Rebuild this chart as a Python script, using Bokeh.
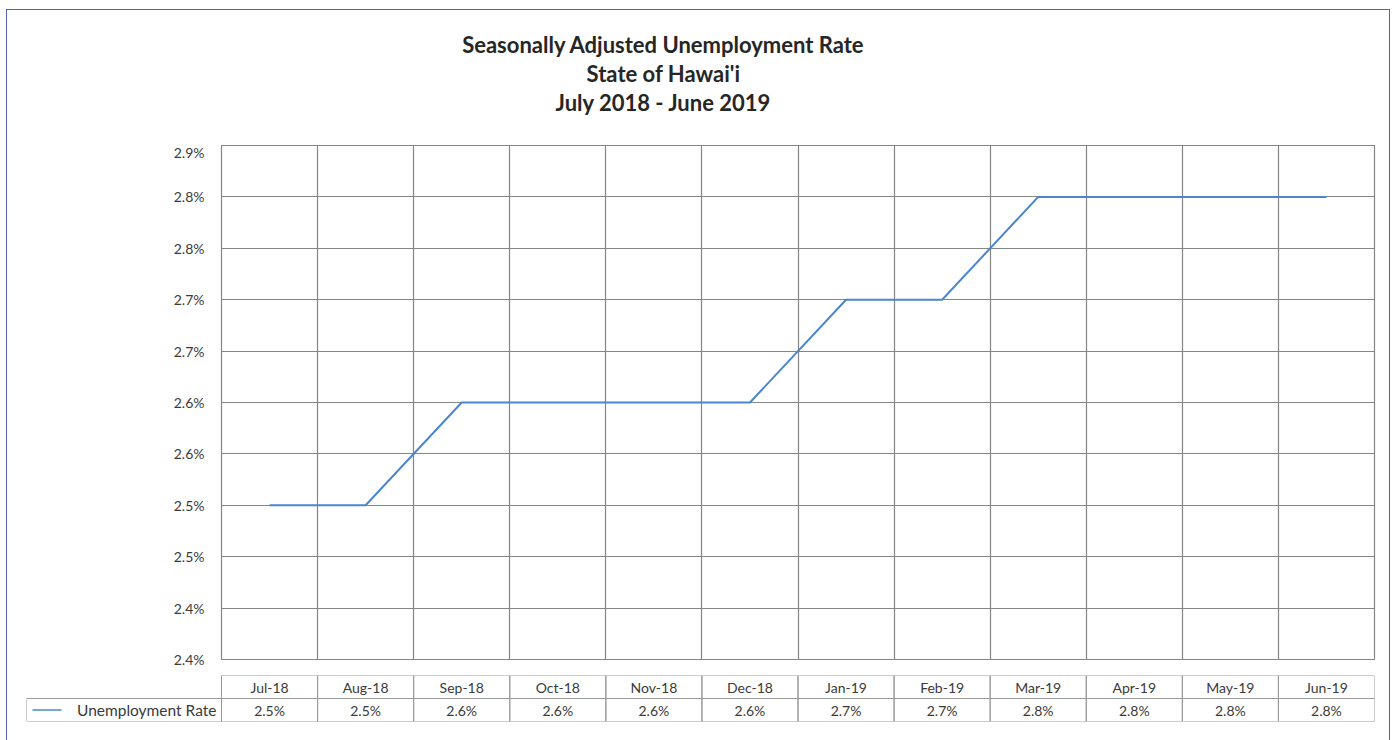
import numpy as np
from bokeh.plotting import figure
from bokeh.models import Range1d, FixedTicker
from bokeh.layouts import column, row
from bokeh.embed import file_html
from bokeh.resources import INLINE
from bokeh.core.properties import value

# ---------------- data ----------------
title_lines = ["Seasonally Adjusted Unemployment Rate", "State of Hawai'i", "July 2018 - June 2019"]
months = ["Jul-18", "Aug-18", "Sep-18", "Oct-18", "Nov-18", "Dec-18",
          "Jan-19", "Feb-19", "Mar-19", "Apr-19", "May-19", "Jun-19"]
rates = [2.5, 2.5, 2.6, 2.6, 2.6, 2.6, 2.7, 2.7, 2.8, 2.8, 2.8, 2.8]
series_name = "Unemployment Rate"
y_ticks = [2.35, 2.40, 2.45, 2.50, 2.55, 2.60, 2.65, 2.70, 2.75, 2.80, 2.85]
y_tick_labels = ["2.4%", "2.4%", "2.5%", "2.5%", "2.6%", "2.6%",
                 "2.7%", "2.7%", "2.8%", "2.8%", "2.9%"]

# ---------------- styles ----------------
FONT = "Lato"
LINE_COLOR = "#4a86cf"
GRID_COLOR = "#858585"
TEXT_COLOR = "#3a3a3a"
TITLE_COLOR = "#262626"
W = 1382
TITLE_H = 133
BL, BR = 214, 15          # main frame borders
FRAME_W = W - BL - BR

n = len(months)
xs = np.arange(n) + 0.5

# ---------------- title block ----------------
tt = figure(width=W, height=TITLE_H, output_backend="svg", toolbar_location=None,
            x_range=Range1d(0, FRAME_W), y_range=Range1d(TITLE_H, 0),
            min_border_left=BL, min_border_right=BR, min_border_top=0,
            min_border_bottom=0, tools="")
tt.outline_line_color = None
tt.axis.visible = False
tt.grid.visible = False
tt.border_fill_color = "white"
tt.background_fill_color = "white"
tt.text(x=[442] * 3, y=[34, 62.5, 92], text=title_lines,
        text_align="center", text_baseline="alphabetic",
        text_font=value(FONT), text_font_style="bold", text_font_size="22px",
        text_color=TITLE_COLOR)

# ---------------- main chart ----------------
p = figure(width=W, height=525, output_backend="svg", toolbar_location=None,
           x_range=Range1d(0, n), y_range=Range1d(y_ticks[0], y_ticks[-1]),
           min_border_left=BL, min_border_right=BR, min_border_top=2,
           min_border_bottom=9, tools="")
p.background_fill_color = "white"
p.border_fill_color = "white"
p.outline_line_color = GRID_COLOR
p.outline_line_width = 1.2

p.xaxis.visible = False
p.xgrid.ticker = FixedTicker(ticks=list(range(n + 1)))
p.xgrid.grid_line_color = GRID_COLOR
p.xgrid.grid_line_width = 1.2

p.yaxis.ticker = FixedTicker(ticks=y_ticks)
p.yaxis.major_label_overrides = {t: l for t, l in zip(y_ticks, y_tick_labels)}
p.yaxis.axis_line_color = None
p.yaxis.major_tick_line_color = None
p.yaxis.minor_tick_line_color = None
p.yaxis.major_label_standoff = 11
p.yaxis.major_label_text_font = FONT
p.yaxis.major_label_text_font_size = "14px"
p.yaxis.major_label_text_color = TEXT_COLOR
p.ygrid.grid_line_color = GRID_COLOR
p.ygrid.grid_line_width = 1.2

p.line(xs, rates, line_color=LINE_COLOR, line_width=2)

# ---------------- data table ----------------
unit_px = FRAME_W / n
legend_px = 195
legend_w = legend_px / unit_px
t = figure(width=W, height=72, output_backend="svg", toolbar_location=None,
           x_range=Range1d(-legend_w, n), y_range=Range1d(0, 2),
           min_border_left=BL - legend_px, min_border_right=BR, min_border_top=7,
           min_border_bottom=19, tools="")
t.outline_line_color = None
t.axis.visible = False
t.grid.visible = False
t.background_fill_color = "white"
t.border_fill_color = "white"

left = np.arange(n)
t.quad(left=left, right=left + 1, bottom=1, top=2, fill_color=None,
       line_color="#999999", line_width=1)
t.quad(left=left, right=left + 1, bottom=0, top=1, fill_color=None,
       line_color="#999999", line_width=1)
t.quad(left=[-legend_w], right=[0], bottom=[0], top=[1], fill_color=None,
       line_color="#999999", line_width=1)

t.text(x=xs, y=[1.5] * n, text=months, text_align="center", text_baseline="middle",
       text_font=value(FONT), text_font_size="14px", text_color=TEXT_COLOR)
t.text(x=xs, y=[0.5] * n, text=[f"{r:.1f}%" for r in rates], text_align="center",
       text_baseline="middle", text_font=value(FONT), text_font_size="14px",
       text_color=TEXT_COLOR)

t.line(x=[-legend_w + 6 / unit_px, -legend_w + 35 / unit_px], y=[0.5, 0.5],
       line_color=LINE_COLOR, line_width=1.5)
t.text(x=[-5 / unit_px], y=[0.5], text=[series_name], text_align="right",
       text_baseline="middle", text_font=value(FONT), text_font_size="15.5px",
       text_color=TEXT_COLOR)

layout = column(tt, p, row(t), spacing=0, margin=(9, 0, 0, 6),
                styles={"border": "1.5px solid #5560b0"})

open("out.html", "w").write(file_html(layout, INLINE))
